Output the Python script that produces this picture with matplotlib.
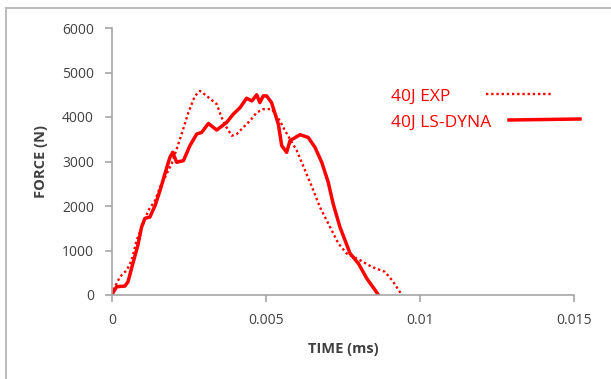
import matplotlib.pyplot as plt
from matplotlib.lines import Line2D

# 40J experiment (dotted)
exp_time = [0.0, 0.00004, 0.00026, 0.00048, 0.00064, 0.0008, 0.00102, 0.00118, 0.0014,
            0.00156, 0.00178, 0.00194, 0.0021, 0.00226, 0.00248, 0.00269, 0.00286,
            0.00307, 0.0034, 0.00356, 0.00372, 0.00389, 0.00405, 0.00426, 0.00448,
            0.0047, 0.00491, 0.00519, 0.00545, 0.00562, 0.006, 0.00627, 0.00654,
            0.00675, 0.00708, 0.00735, 0.00762, 0.00805, 0.00843, 0.00886, 0.00913,
            0.00941]
exp_force = [0, 112, 409, 559, 783, 1230, 1611, 1902, 2125, 2423, 2729, 2953, 3282,
             3617, 4101, 4474, 4586, 4474, 4289, 3989, 3765, 3579, 3617, 3765, 3915,
             4101, 4177, 4177, 3915, 3691, 3244, 2796, 2349, 1975, 1528, 1157, 933,
             783, 633, 521, 298, 0]

# 40J LS-DYNA simulation (solid)
sim_time = [0.0, 0.00002, 0.00015, 0.00042, 0.00052, 0.00068, 0.00084, 0.00096,
            0.00107, 0.00123, 0.0014, 0.00156, 0.00172, 0.00188, 0.00197, 0.0021,
            0.00232, 0.00253, 0.00275, 0.00291, 0.00313, 0.0034, 0.00372, 0.00394,
            0.00416, 0.00437, 0.00454, 0.0047, 0.0048, 0.00491, 0.00502, 0.00518,
            0.0054, 0.00551, 0.00567, 0.00578, 0.0061, 0.00637, 0.00659, 0.00681,
            0.00702, 0.00718, 0.0074, 0.00773, 0.008, 0.00827, 0.00854, 0.00865]
sim_force = [0, 38, 186, 201, 298, 716, 1119, 1528, 1723, 1752, 2013, 2349, 2729,
             3094, 3206, 2982, 3020, 3356, 3617, 3653, 3855, 3707, 3877, 4065, 4212,
             4423, 4362, 4497, 4324, 4474, 4474, 4324, 3841, 3356, 3206, 3468, 3602,
             3541, 3318, 2982, 2535, 2051, 1528, 933, 709, 374, 112, 0]

x_ticks = [0, 0.005, 0.01, 0.015]
x_labels = ["0", "0.005", "0.01", "0.015"]
y_ticks = [0, 1000, 2000, 3000, 4000, 5000, 6000]

plt.rcParams["font.family"] = ["Open Sans", "DejaVu Sans"]
red = "#ff0000"
grey = "#a6a6a6"
text_col = "#404040"

fig = plt.figure(figsize=(6.11, 3.79), dpi=100)

# chart area border: only left and top edges are visible in the crop
fig.add_artist(Line2D([6 / 611, 6 / 611], [0, 1 - 8 / 379], transform=fig.transFigure,
                      color="#bdbdbd", linewidth=1.5))
fig.add_artist(Line2D([6 / 611, 1], [1 - 8 / 379, 1 - 8 / 379], transform=fig.transFigure,
                      color="#bdbdbd", linewidth=1.5))

ax = fig.add_axes([112 / 611, 1 - 295 / 379, 462 / 611, 267 / 379])
ax.plot(exp_time, exp_force, color=red, linewidth=1.7, linestyle=(0, (1, 1.2)))
ax.plot(sim_time, sim_force, color=red, linewidth=2.5, solid_capstyle="round")

ax.set_xlim(0, 0.015)
ax.set_ylim(0, 6000)
ax.set_xticks(x_ticks)
ax.set_xticklabels(x_labels)
ax.set_yticks(y_ticks)

for side in ["top", "right"]:
    ax.spines[side].set_visible(False)
for side in ["left", "bottom"]:
    ax.spines[side].set_color(grey)
    ax.spines[side].set_linewidth(1.2)
ax.tick_params(direction="out", length=5, width=1.2, color=grey,
               labelsize=10, labelcolor=text_col, pad=8)

ax.set_xlabel("TIME (ms)", fontsize=10.5, fontweight="bold", color=text_col, labelpad=10)
ax.set_ylabel("FORCE (N)", fontsize=10.5, fontweight="bold", color=text_col, labelpad=10)

# legend drawn by hand like the original
fig.text(391 / 611, 1 - 97 / 379, "40J EXP", color=red, fontsize=12.5, va="center")
fig.text(391 / 611, 1 - 123 / 379, "40J LS-DYNA", color=red, fontsize=12.5, va="center")
fig.add_artist(Line2D([486 / 611, 553 / 611], [1 - 94 / 379, 1 - 94 / 379],
                      transform=fig.transFigure, color=red, linewidth=1.7,
                      linestyle=(0, (1, 1.2))))
fig.add_artist(Line2D([509 / 611, 580 / 611], [1 - 120 / 379, 1 - 119 / 379],
                      transform=fig.transFigure, color=red, linewidth=2.5))

fig.savefig("out.png", dpi=100)
